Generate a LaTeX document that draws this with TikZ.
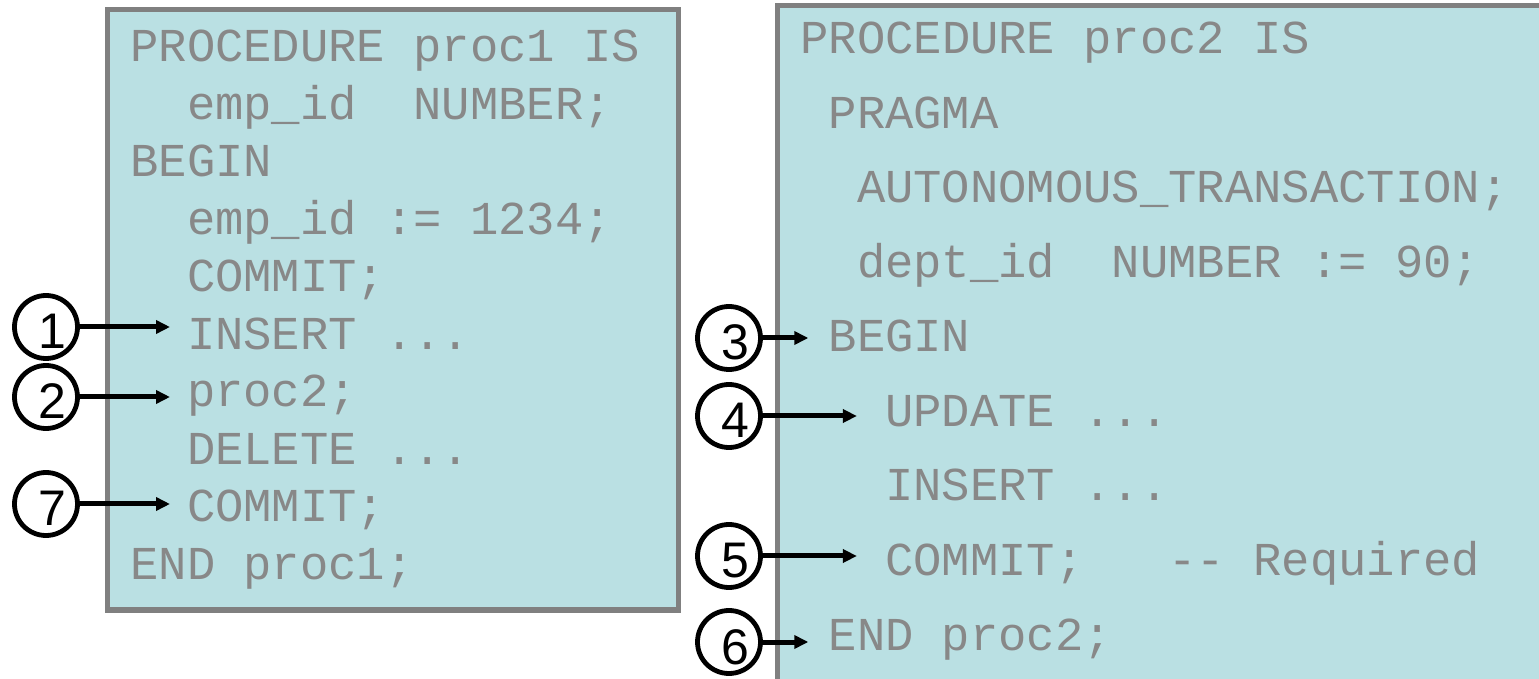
\documentclass[tikz,border=0pt]{standalone}
\usepackage{fontspec}
\setmainfont{Liberation Sans}
\setmonofont{Liberation Mono}
\usetikzlibrary{arrows.meta}

\definecolor{boxfill}{RGB}{186,224,227}
\definecolor{boxline}{RGB}{128,128,128}
\definecolor{codegray}{RGB}{136,136,136}

\begin{document}
\begin{tikzpicture}[x=0.5pt, y=-0.5pt,
    codebox/.style={draw=boxline, fill=boxfill, line width=2.5pt},
    code/.style={anchor=base west, inner sep=0pt, text=codegray, font=\ttfamily\fontsize{23.6}{28}\selectfont},
    stepno/.style={circle, draw, line width=2.4pt, minimum size=31.5pt, inner sep=0pt, font=\fontsize{25}{26}\selectfont, text height=22pt, text depth=0pt, execute at begin node=\hspace*{6pt}},
    pointer/.style={-{Triangle[length=7pt,width=6.5pt]}, line width=2.5pt}]

    \clip (0,0) rectangle (1539,679);

    % Boxes
    \draw[codebox] (107.5,10) rectangle (678,610);
    \draw[codebox] (777.5,6) rectangle (1600,720);

    % proc1
    \node[code] (p1head) at (130,62) {PROCEDURE proc1 IS};
    \node[code] (p1decl) at (186.6,119.5) {emp\_id\ \ NUMBER;};
    \node[code] (p1begin) at (130,177) {BEGIN};
    \node[code] (p1set) at (186.6,234.5) {emp\_id := 1234;};
    \node[code] (p1commit) at (186.6,292) {COMMIT;};
    \node[code] (p1ins) at (186.6,349.5) {INSERT ...};
    \node[code] (p1call) at (186.6,407) {proc2;};
    \node[code] (p1del) at (186.6,464.5) {DELETE ...};
    \node[code] (p1last) at (186.6,522) {COMMIT;};
    \node[code] (p1end) at (130,579.5) {END proc1;};

    % proc2
    \node[code] (p2head) at (800,54) {PROCEDURE proc2 IS};
    \node[code] (p2pragma) at (828.3,128.5) {PRAGMA};
    \node[code] (p2auto) at (856.6,203) {AUTONOMOUS\_TRANSACTION;};
    \node[code] (p2decl) at (856.6,277.5) {dept\_id\ \ NUMBER := 90;};
    \node[code] (p2begin) at (828.3,352) {BEGIN};
    \node[code] (p2upd) at (884.9,426.5) {UPDATE ...};
    \node[code] (p2ins) at (884.9,501) {INSERT ...};
    \node[code] (p2commit) at (884.9,575.5) {COMMIT;\ \ \ -{}- Required};
    \node[code] (p2end) at (828.3,650) {END proc2;};

    % Steps
    \node[stepno] (s1) at (46,327) {1};
    \node[stepno] (s2) at (46,397) {2};
    \node[stepno] (s7) at (46,504) {7};
    \node[stepno] (s3) at (729,338) {3};
    \node[stepno] (s4) at (729,416) {4};
    \node[stepno] (s5) at (729,556) {5};
    \node[stepno] (s6) at (729,642) {6};

    % Arrows
    \draw[pointer, shorten >=8.3pt] (s1) -- (s1 -| p1ins.west);
    \draw[pointer, shorten >=8.3pt] (s2) -- (s2 -| p1call.west);
    \draw[pointer, shorten >=8.3pt] (s7) -- (s7 -| p1last.west);
    \draw[pointer, shorten >=10pt] (s3) -- (s3 -| p2begin.west);
    \draw[pointer, shorten >=14pt] (s4) -- (s4 -| p2upd.west);
    \draw[pointer, shorten >=14pt] (s5) -- (s5 -| p2commit.west);
    \draw[pointer, shorten >=10pt] (s6) -- (s6 -| p2end.west);
\end{tikzpicture}
\end{document}
